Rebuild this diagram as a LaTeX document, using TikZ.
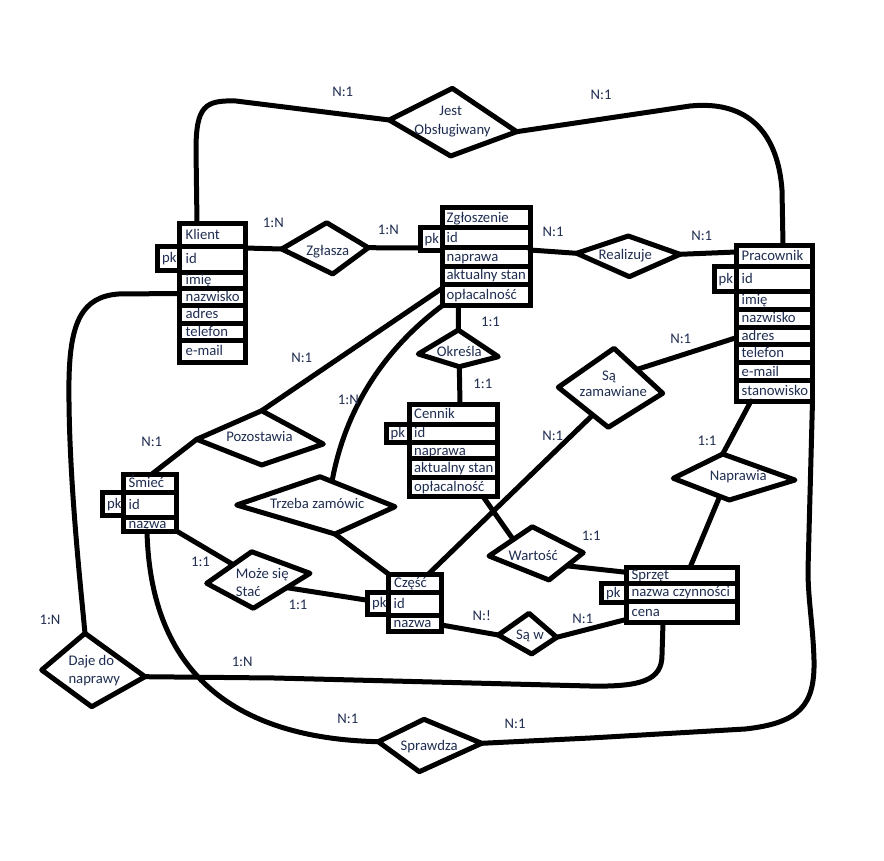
\documentclass[tikz,border=0pt]{standalone}
\usepackage{fontspec}
\setmainfont{Carlito}
\usetikzlibrary{calc}
\definecolor{ink}{HTML}{1F2D50}
\tikzset{
  conn/.style={line width=5pt, line cap=round, line join=round},
  diabox/.style={draw, line width=5pt, line join=round, fill=white},
  rowbox/.style={draw, rectangle, line width=5pt, fill=white, inner sep=0pt, outer sep=0pt},
  rowtxt/.style={anchor=west, inner sep=0pt, text=ink, font=\fontsize{14.7}{17}\selectfont, text height=9.4pt, text depth=0pt},
  lbl/.style={anchor=base, inner sep=0pt, text=ink, font=\fontsize{14.7}{17}\selectfont},
  lbll/.style={lbl, anchor=base west},
}
% name, x1, y1, x2, y2, text shift, text
\newcommand\trow[7]{%
  \node[rowbox, minimum width={#4-#2}, minimum height={#5-#3}] (#1) at ({(#2+#4)/2},{(#3+#5)/2}) {};
  \node[rowtxt] (#1t) at ([xshift=#6]#1.west) {#7};}
% diamond corner coordinates: name, left, top, right, bottom
\newcommand\diac[9]{%
  \coordinate (#1-l) at (#2,#3); \coordinate (#1-t) at (#4,#5);
  \coordinate (#1-r) at (#6,#7); \coordinate (#1-b) at (#8,#9);}
\newcommand\diad[1]{\draw[diabox] (#1-l) -- (#1-t) -- (#1-r) -- (#1-b) -- cycle;}
\begin{document}
\begin{tikzpicture}[x=1pt, y=-1pt]
\useasboundingbox[fill=white] (0,0) rectangle (884,860);

% ---------- tables ----------
% Klient
\trow{klpk}{157.5}{246}{179}{270.5}{4.5}{pk}
\trow{kl0}{179}{223}{245}{246}{6.5}{Klient}
\trow{kl1}{179}{246}{245}{272}{6.5}{id}
\trow{kl2}{179}{272}{245}{288}{6.5}{imię}
\trow{kl3}{179}{288}{245}{305}{6.5}{nazwisko}
\trow{kl4}{179}{305}{245}{323}{6.5}{adres}
\trow{kl5}{179}{323}{245}{340}{6.5}{telefon}
\trow{kl6}{179}{340}{245}{362}{6.5}{e-mail}
% Zgłoszenie
\trow{zgpk}{420.5}{227.5}{442.5}{250}{4}{pk}
\trow{zg0}{442.5}{207.5}{530}{227.5}{4}{Zgłoszenie}
\trow{zg1}{442.5}{227.5}{530}{247.5}{4}{id}
\trow{zg2}{442.5}{247.5}{530}{266.5}{4}{naprawa}
\trow{zg3}{442.5}{266.5}{530}{284}{4}{aktualny stan}
\trow{zg4}{442.5}{284}{530}{305.5}{4}{opłacalność}
% Pracownik
\trow{prpk}{714}{266}{736}{291}{4.5}{pk}
\trow{pr0}{736}{245}{812.5}{266}{5.5}{Pracownik}
\trow{pr1}{736}{266}{812.5}{291}{5.5}{id}
\trow{pr2}{736}{291}{812.5}{309}{5.5}{imię}
\trow{pr3}{736}{309}{812.5}{327.5}{5.5}{nazwisko}
\trow{pr4}{736}{327.5}{812.5}{344}{5.5}{adres}
\trow{pr5}{736}{344}{812.5}{362.5}{5.5}{telefon}
\trow{pr6}{736}{362.5}{812.5}{380.5}{5.5}{e-mail}
\trow{pr7}{736}{380.5}{812.5}{401}{5.5}{stanowisko}
% Cennik
\trow{cepk}{386}{424}{409}{442.5}{4.5}{pk}
\trow{ce0}{409}{404}{497.5}{424}{5}{Cennik}
\trow{ce1}{409}{424}{497.5}{442.5}{5}{id}
\trow{ce2}{409}{442.5}{497.5}{458.5}{5}{naprawa}
\trow{ce3}{409}{458.5}{497.5}{477}{5}{aktualny stan}
\trow{ce4}{409}{477}{497.5}{496.5}{5}{opłacalność}
% Śmieć
\trow{smpk}{102.5}{492.5}{123}{515}{4.5}{pk}
\trow{sm0}{123}{474}{176.5}{492.5}{5.5}{Śmieć}
\trow{sm1}{123}{492.5}{176.5}{517}{5.5}{id}
\trow{sm2}{123}{517}{176.5}{531}{5.5}{nazwa}
% Część
\trow{czpk}{367.5}{592.5}{388.5}{614}{4.5}{pk}
\trow{cz0}{388.5}{574}{441.5}{592.5}{5.5}{Część}
\trow{cz1}{388.5}{592.5}{441.5}{615}{5}{id}
\trow{cz2}{388.5}{615}{441.5}{631}{5}{nazwa}
% Sprzęt
\trow{sppk}{601.5}{583}{626}{602}{4.5}{pk}
\trow{sp0}{626}{567.5}{737}{583}{5.5}{Sprzęt}
\trow{sp1}{626}{583}{737}{601.5}{5.5}{nazwa czynności}
\trow{sp2}{626}{601.5}{737}{622.5}{5.5}{cena}

% ---------- diamond corners ----------
\diac{jo}{389.3}{120}{452.3}{88.3}{516.7}{131.7}{450.7}{156}
\diac{zs}{281.7}{249}{326.7}{222.7}{368.3}{247.7}{332.7}{274}
\diac{re}{576.7}{253.3}{628.3}{236}{680}{254.3}{629.3}{276.7}
\diac{ok}{418.3}{354}{458.3}{330}{498.3}{356.7}{459.3}{366.7}
\diac{sz}{558.3}{387.3}{614}{348.3}{662.7}{393.3}{608.3}{427.3}
\diac{np}{673.3}{478.3}{722.7}{454}{795}{480}{729.3}{500}
\diac{wa}{489}{556}{532.3}{526.7}{583.3}{552.7}{549}{580}
\diac{ms}{206.7}{583.3}{251.7}{551.7}{310}{573.3}{253.3}{608.3}
\diac{sw}{498.3}{635}{529}{613.3}{556.7}{637.3}{531.7}{654}
\diac{po}{196.7}{439.3}{261.7}{410.7}{323.3}{444}{261.7}{465}
\diac{tz}{236.7}{505}{320}{476.7}{395}{506.7}{335}{534}
\diac{dj}{41.7}{670}{85}{633.3}{145}{676.7}{91.7}{706.7}
\diac{sd}{378.3}{741.7}{424}{719.3}{481.7}{743.3}{419.3}{771.7}

% ---------- connectors ----------
\draw[conn] ($(kl0.north west)+(18,0)$) -- (196,150) .. controls (196,106) and (205,100) .. (236,101) -- (jo-l);
\draw[conn] (jo-r) -- (690,106) .. controls (750,100) and (778,135) .. (782,190) -- ($(pr0.north west)+(47,0)$);
\draw[conn] ($(kl1.north east)+(0,2)$) -- (zs-l);
\draw[conn] (zs-r) -- ($(zgpk.south west)+(0,-2)$);
\draw[conn] ($(zg1.south east)+(0,2.5)$) -- (re-l);
\draw[conn] (re-r) -- ($(pr0.south west)+(0,-14)$);
\draw[conn] ($(kl3.west)+(0,-3)$) -- (118,294) .. controls (82,297) and (70,322) .. (69,380) .. controls (68,470) and (80,580) .. (dj-t);
\draw[conn] (dj-r) -- (275,678) -- (590,686) .. controls (642,687) and (662,680) .. (662,655) -- ($(sp2.south west)+(37,0)$);
\draw[conn] ($(zg4.north west)+(0,4)$) -- (po-t);
\draw[conn] (po-l) -- ($(sm0.north west)+(29,0)$);
\draw[conn] (zg4.south west) .. controls (383,350) and (345,410) .. ($(tz-t)!0.16!(tz-r)$);
\draw[conn] (tz-b) -- (cz0.north west);
\draw[conn] ($(zg4.south west)+(16,0)$) -- (ok-t);
\draw[conn] (ok-b) -- ($(ce0.north west)+(51,0)$);
\draw[conn] ($(sz-t)!0.47!(sz-r)$) -- ($(pr4.west)+(0,2)$);
\draw[conn] ($(sz-l)!0.69!(sz-b)$) -- ($(cz0.north west)+(40,0)$);
\draw[conn] ($(pr7.south west)+(15,0)$) -- (np-t);
\draw[conn] ($(np-l)!0.83!(np-b)$) -- ($(sp0.north west)+(64,0)$);
\draw[conn] ($(ce4.south west)+(74,0)$) -- ($(wa-l)!0.56!(wa-t)$);
\draw[conn] ($(wa-r)!0.48!(wa-b)$) -- ($(sp0.west)+(0,-3)$);
\draw[conn] (sm2.south east) -- ($(ms-l)!0.59!(ms-t)$);
\draw[conn] ($(ms-r)!0.41!(ms-b)$) -- ($(czpk.west)+(0,-3)$);
\draw[conn] ($(cz2.east)+(0,2)$) -- (sw-l);
\draw[conn] (sw-r) -- ($(sp2.south west)+(0,-3)$);
\draw[conn] ($(sm2.south west)+(24,0)$) .. controls (150,660) and (220,738) .. (sd-l);
\draw[conn] (sd-r) -- (590,738) -- (745,729) .. controls (800,723) and (815,705) .. (814,660) .. controls (813,625) and (808,600) .. (808,570) -- (pr7.south east);

% ---------- diamonds ----------
\diad{jo}\diad{zs}\diad{re}\diad{ok}\diad{sz}\diad{np}\diad{wa}
\diad{ms}\diad{sw}\diad{po}\diad{tz}\diad{dj}\diad{sd}

% ---------- diamond texts ----------
\node[lbl] (jo1) at (450.7,115) {Jest};
\node[lbl] (jo2) at (452.5,134) {Obsługiwany};
\node[lbl] (zs) at (327.7,255) {Zgłasza};
\node[lbl] (re) at (625.3,259.3) {Realizuje};
\node[lbl] (ok) at (459.3,356.7) {Określa};
\node[lbl] (sz1) at (609,380) {Są};
\node[lbl] (sz2) at (613.3,396.7) {zamawiane};
\node[lbl] (np) at (738.3,480.7) {Naprawia};
\node[lbl] (po) at (259.5,441.7) {Pozostawia};
\node[lbl] (tz) at (317.2,508.3) {Trzeba zamówic};
\node[lbl] (wa) at (533.3,560) {Wartość};
\node[lbll] (ms1) at (235.7,578.3) {Może się};
\node[lbll] (ms2) at (235.7,596) {Stać};
\node[lbl] (sw) at (530,639.3) {Są w};
\node[lbll] (dj1) at (68.3,665) {Daje do};
\node[lbll] (dj2) at (68.3,683.3) {naprawy};
\node[lbl] (sd) at (429.2,750) {Sprawdza};

% ---------- cardinalities ----------
\node[lbl] (c1) at (342.7,96) {N:1};
\node[lbl] (c2) at (601,99) {N:1};
\node[lbl] (c3) at (273.3,227.3) {1:N};
\node[lbl] (c4) at (388.3,234) {1:N};
\node[lbl] (c5) at (553,236) {N:1};
\node[lbl] (c6) at (701.7,240) {N:1};
\node[lbl] (c7) at (490.5,326.7) {1:1};
\node[lbl] (c8) at (482.8,388.3) {1:1};
\node[lbl] (c9) at (680.7,343.3) {N:1};
\node[lbl] (c10) at (301.7,362.7) {N:1};
\node[lbl] (c11) at (348.3,404.3) {1:N};
\node[lbl] (c12) at (151.7,446.7) {N:1};
\node[lbl] (c13) at (552.7,440) {N:1};
\node[lbl] (c14) at (707,445) {1:1};
\node[lbl] (c15) at (591.2,540.7) {1:1};
\node[lbl] (c16) at (200.5,566) {1:1};
\node[lbl] (c17) at (298,609.3) {1:1};
\node[lbl] (c18) at (481.8,620.7) {N:!};
\node[lbl] (c19) at (582.7,623.3) {N:1};
\node[lbl] (c20) at (50,624) {1:N};
\node[lbl] (c21) at (242.2,666) {1:N};
\node[lbl] (c22) at (347.8,723.3) {N:1};
\node[lbl] (c23) at (515,728.3) {N:1};
\end{tikzpicture}
\end{document}
